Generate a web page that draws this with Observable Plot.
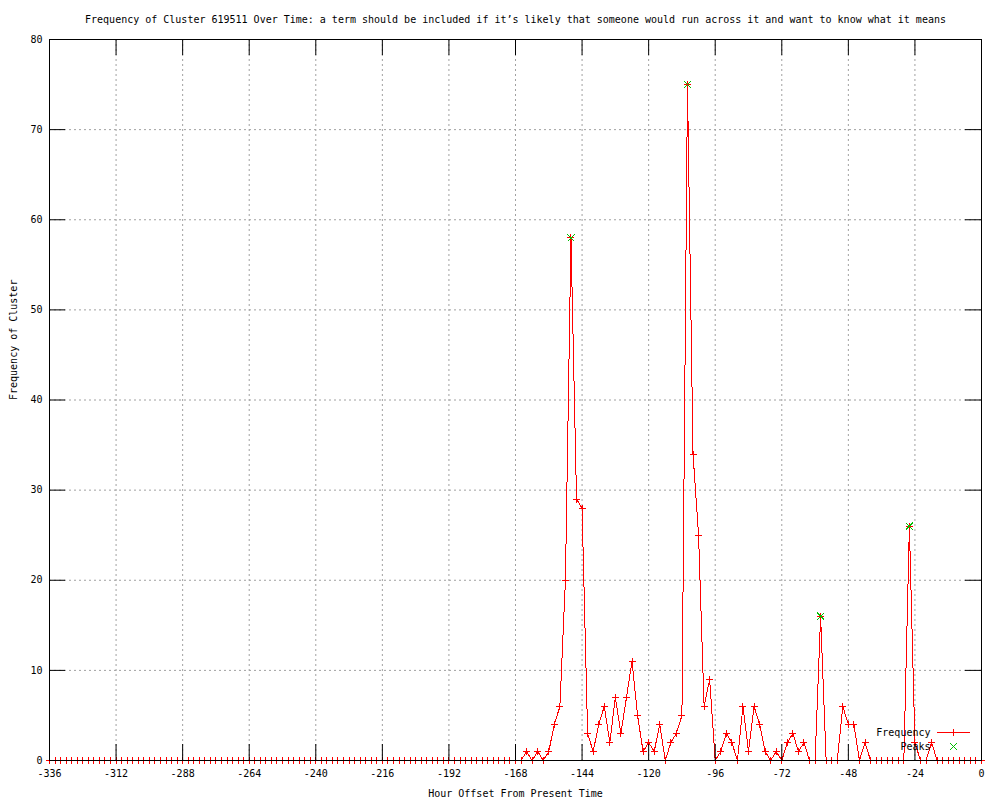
<!DOCTYPE html>
<html><head><meta charset="utf-8">
<script src="https://cdn.jsdelivr.net/npm/d3@7"></script>
<script src="https://cdn.jsdelivr.net/npm/@observablehq/plot@0.6"></script>
<style>body{margin:0;background:#fff} svg{display:block}</style>
</head><body><div id="chart"></div>
<script>
const title = "Frequency of Cluster 619511 Over Time: a term should be included if it’s likely that someone would run across it and want to know what it means";
const xLabel = "Hour Offset From Present Time";
const yLabel = "Frequency of Cluster";
const legendLabels = ["Frequency", "Peaks"];

const hours = [
  -336,-334,-332,-330,-328,-326,-324,-322,-320,-318,-316,-314,
  -312,-310,-308,-306,-304,-302,-300,-298,-296,-294,-292,-290,
  -288,-286,-284,-282,-280,-278,-276,-274,-272,-270,-268,-266,
  -264,-262,-260,-258,-256,-254,-252,-250,-248,-246,-244,-242,
  -240,-238,-236,-234,-232,-230,-228,-226,-224,-222,-220,-218,
  -216,-214,-212,-210,-208,-206,-204,-202,-200,-198,-196,-194,
  -192,-190,-188,-186,-184,-182,-180,-178,-176,-174,-172,-170,
  -168,-166,
  -164,-162,-160,-158,-156,-154,-152,-150,-148,-146,-144,-142,
  -140,-138,-136,-134,-132,-130,-128,-126,-124,-122,-120,-118,
  -116,-114,-112,-110,-108,-106,-104,-102,-100,-98,-96,-94,
  -92,-90,-88,-86,-84,-82,-80,-78,-76,-74,-72,-70,
  -68,-66,-64,-62,-60,-58,-56,-54,-52,-50,-48,-46,
  -44,-42,-40,-38,-36,-34,-32,-30,-28,-26,-24,-22,
  -20,-18,-16,-14,-12,-10,-8,-6,-4,-2,0
];
const frequency = [
  0,0,0,0,0,0,0,0,0,0,0,0,
  0,0,0,0,0,0,0,0,0,0,0,0,
  0,0,0,0,0,0,0,0,0,0,0,0,
  0,0,0,0,0,0,0,0,0,0,0,0,
  0,0,0,0,0,0,0,0,0,0,0,0,
  0,0,0,0,0,0,0,0,0,0,0,0,
  0,0,0,0,0,0,0,0,0,0,0,0,
  0,0,
  1,0,1,0,1,4,6,20,58,29,28,3,
  1,4,6,2,7,3,7,11,5,1,2,1,
  4,0,2,3,5,75,34,25,6,9,0,1,
  3,2,0,6,1,6,4,1,0,1,0,2,
  3,1,2,0,0,16,0,0,0,6,4,4,
  0,2,0,0,0,0,0,0,0,26,2,0,
  0,2,0,0,0,0,0,0,0,0,0
];
const peakHours = [-148, -106, -58, -26];
const peakValues = [58, 75, 16, 26];
const xTicks = [-336,-312,-288,-264,-240,-216,-192,-168,-144,-120,-96,-72,-48,-24,0];
const yTicks = [0,10,20,30,40,50,60,70,80];

const series = hours.map((h, i) => ({h, v: frequency[i]}));
const peaks = peakHours.map((h, i) => ({h, v: peakValues[i]}));

const RED = "#ff0000", GREEN = "#00c000", GRID = "#a0a0a0";
const W = 1000, H = 800, ML = 49, MR = 19, MT = 39, MB = 40;
const FW = W - ML - MR, FH = H - MT - MB, TICK = 16;

const plusSym = {draw(c) { c.moveTo(-3.5, 0); c.lineTo(3.5, 0); c.moveTo(0, -3.5); c.lineTo(0, 3.5); }};
const timesSym = {draw(c) { c.moveTo(-3.5, -3.5); c.lineTo(3.5, 3.5); c.moveTo(-3.5, 3.5); c.lineTo(3.5, -3.5); }};
const legendLineSym = {draw(c) { c.moveTo(-16.5, 0); c.lineTo(16.5, 0); c.moveTo(0, -3.5); c.lineTo(0, 3.5); }};

const fmt = d => String(d);

const chart = Plot.plot({
  width: W, height: H,
  marginLeft: ML, marginRight: MR, marginTop: MT, marginBottom: MB,
  style: {fontFamily: "'DejaVu Sans Mono', monospace", fontSize: "10px", color: "#000", background: "#fff"},
  x: {domain: [-336, 0]},
  y: {domain: [0, 80]},
  marks: [
    Plot.gridX({ticks: xTicks, stroke: GRID, strokeOpacity: 1, strokeDasharray: "2,3"}),
    Plot.gridY({ticks: yTicks, stroke: GRID, strokeOpacity: 1, strokeDasharray: "2,3"}),
    Plot.line(series, {x: "h", y: "v", stroke: RED, strokeWidth: 1, shapeRendering: "crispEdges"}),
    Plot.dot(series, {x: "h", y: "v", symbol: plusSym, fill: "none", stroke: RED, strokeWidth: 1, shapeRendering: "crispEdges"}),
    Plot.dot(peaks, {x: "h", y: "v", symbol: timesSym, fill: "none", stroke: GREEN, strokeWidth: 1, shapeRendering: "crispEdges"}),
    Plot.frame({stroke: "#000", strokeWidth: 1}),
    Plot.ruleX(xTicks, {x: d => d, insetTop: FH - TICK, stroke: "#000"}),
    Plot.ruleX(xTicks, {x: d => d, insetBottom: FH - TICK, stroke: "#000"}),
    Plot.ruleY(yTicks, {y: d => d, insetRight: FW - TICK, stroke: "#000"}),
    Plot.ruleY(yTicks, {y: d => d, insetLeft: FW - TICK, stroke: "#000"}),
    Plot.axisX({ticks: xTicks, tickSize: 0, tickPadding: 9, tickFormat: fmt, label: null, fontSize: 10}),
    Plot.axisY({ticks: yTicks, tickSize: 0, tickPadding: 7, tickFormat: fmt, label: null, fontSize: 10}),
    Plot.text([title], {text: d => d, frameAnchor: "top", dy: -20, lineAnchor: "middle", fontSize: 10}),
    Plot.text([xLabel], {text: d => d, frameAnchor: "bottom", dy: 33, lineAnchor: "middle", fontSize: 10}),
    Plot.text([yLabel], {text: d => d, frameAnchor: "left", dx: -36, rotate: -90, lineAnchor: "middle", fontSize: 10}),
    Plot.text([legendLabels[0]], {text: d => d, frameAnchor: "bottom-right", dx: -51, dy: -28, textAnchor: "end", lineAnchor: "middle", fontSize: 10}),
    Plot.text([legendLabels[1]], {text: d => d, frameAnchor: "bottom-right", dx: -51, dy: -14, textAnchor: "end", lineAnchor: "middle", fontSize: 10}),
    Plot.dot([legendLabels[0]], {frameAnchor: "bottom-right", dx: -28, dy: -28, symbol: legendLineSym, fill: "none", stroke: RED, strokeWidth: 1, shapeRendering: "crispEdges"}),
    Plot.dot([legendLabels[1]], {frameAnchor: "bottom-right", dx: -28, dy: -14, symbol: timesSym, fill: "none", stroke: GREEN, strokeWidth: 1, shapeRendering: "crispEdges"})
  ]
});
document.getElementById("chart").appendChild(chart);
</script>
</body></html>
